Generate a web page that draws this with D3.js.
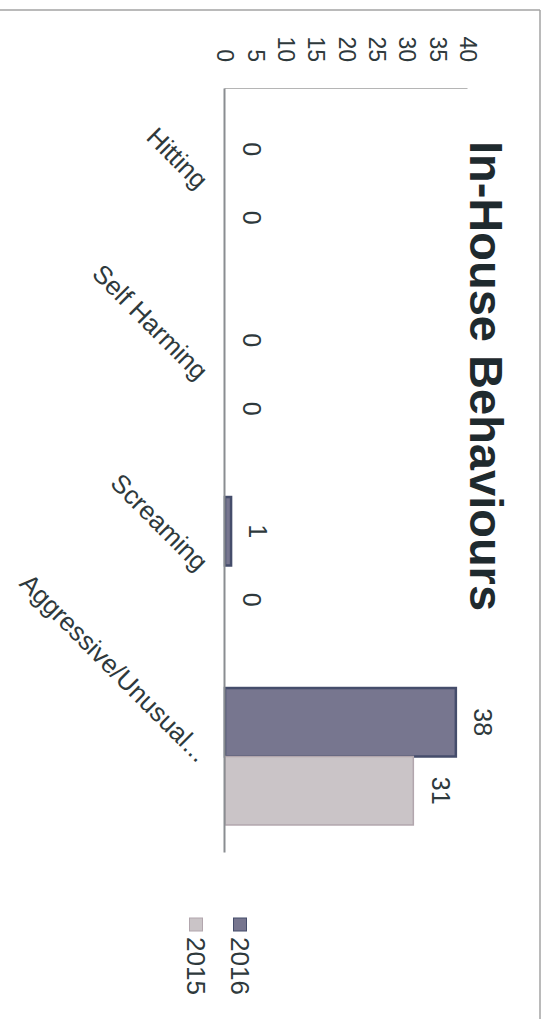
<!DOCTYPE html>
<html>
<head>
<meta charset="utf-8">
<script src="https://cdn.jsdelivr.net/npm/d3@7"></script>
<style>
  html, body { margin: 0; padding: 0; background: #fff; }
  svg { display: block; font-family: "Liberation Sans", Arial, sans-serif; }
</style>
</head>
<body>
<svg id="chart" width="547" height="1019"></svg>
<script>
const title = "In-House Behaviours";
const categories = ["Hitting", "Self Harming", "Screaming", "Aggressive/Unusual..."];
const seriesNames = ["2016", "2015"];
const values2016 = [0, 0, 1, 38];
const values2015 = [0, 0, 0, 31];
const yTicks = [0, 5, 10, 15, 20, 25, 30, 35, 40];

const colors = { "2016": "#77768f", "2015": "#cac4c7" };
const strokes = { "2016": "#454d6b", "2015": "#b2a6ad" };
const textColor = "#2e393c";

const W = 547, H = 1019;
const svg = d3.select("#chart");

// frame (page border of the scanned chart)
svg.append("line").attr("x1", 0).attr("x2", 540).attr("y1", 10).attr("y2", 10)
  .attr("stroke", "#a3a3a3").attr("stroke-width", 1.5);
svg.append("line").attr("x1", 540).attr("x2", 540).attr("y1", 10).attr("y2", H)
  .attr("stroke", "#a3a3a3").attr("stroke-width", 1.5);

// chart drawn in an unrotated frame, then rotated 90deg clockwise
const g = svg.append("g").attr("transform", `translate(${W},0) rotate(90)`);

const x = d3.scaleBand().domain(categories).range([88, 852]).paddingInner(0.283).paddingOuter(0.1415);
const xs = d3.scaleBand().domain(seriesNames).range([0, x.bandwidth()]);
const y = d3.scaleLinear().domain([0, 40]).range([322, 79]);

const rows = categories.map((c, i) => ({ cat: c, vals: { "2016": values2016[i], "2015": values2015[i] } }));

// title
g.append("text").attr("x", 376).attr("y", 77).attr("text-anchor", "middle")
  .attr("font-size", 47).attr("font-weight", "bold").attr("fill", "#1f2a2e").text(title);

// value axis (left, rotated)
const yAxis = g.append("g").attr("transform", `translate(88,0)`)
  .call(d3.axisLeft(y).tickValues(yTicks).tickSize(0).tickPadding(26));
yAxis.select(".domain").attr("stroke", "#b5b5b5").attr("stroke-width", 1);
yAxis.selectAll("text").attr("font-size", 23).attr("fill", textColor)
  .attr("font-family", "Liberation Sans, Arial, sans-serif");

// bars
const groups = g.selectAll("g.cat").data(rows).join("g").attr("class", "cat")
  .attr("transform", d => `translate(${x(d.cat)},0)`);

groups.selectAll("rect").data(d => seriesNames.map(s => ({ s, v: d.vals[s] })).filter(e => e.v > 0))
  .join("rect")
  .attr("x", e => xs(e.s))
  .attr("width", xs.bandwidth())
  .attr("y", e => y(e.v))
  .attr("height", e => y(0) - y(e.v))
  .attr("fill", e => colors[e.s])
  .attr("stroke", e => strokes[e.s])
  .attr("stroke-width", e => e.s === "2016" ? 2.5 : 1.5);

// data labels
groups.selectAll("text.lbl").data(d => seriesNames.map(s => ({ s, v: d.vals[s] })))
  .join("text").attr("class", "lbl")
  .attr("x", e => xs(e.s) + xs.bandwidth() / 2)
  .attr("y", e => y(e.v) - 27)
  .attr("dy", "0.35em")
  .attr("text-anchor", "middle")
  .attr("font-size", 25).attr("fill", textColor)
  .text(e => e.v);

// category axis (bottom, rotated)
const xAxis = g.append("g").attr("transform", `translate(0,${y(0)})`)
  .call(d3.axisBottom(x).tickSize(0));
xAxis.select(".domain").attr("stroke", "#8a8d91").attr("stroke-width", 2);
xAxis.selectAll("text")
  .attr("x", 0).attr("y", 0).attr("dy", 0)
  .attr("transform", "translate(7,28) rotate(-45)")
  .attr("text-anchor", "end")
  .attr("font-size", 26).attr("fill", textColor)
  .attr("font-family", "Liberation Sans, Arial, sans-serif");

// legend
const legend = g.append("g").attr("transform", "translate(918,0)");
const legendY = { "2016": 307, "2015": 351 };
seriesNames.forEach(s => {
  legend.append("rect").attr("x", 0).attr("y", legendY[s] - 6.5).attr("width", 13).attr("height", 13)
    .attr("fill", colors[s]).attr("stroke", strokes[s]).attr("stroke-width", 1);
  legend.append("text").attr("x", 19).attr("y", legendY[s]).attr("dy", "0.35em")
    .attr("font-size", 26).attr("fill", textColor).text(s);
});
</script>
</body>
</html>
